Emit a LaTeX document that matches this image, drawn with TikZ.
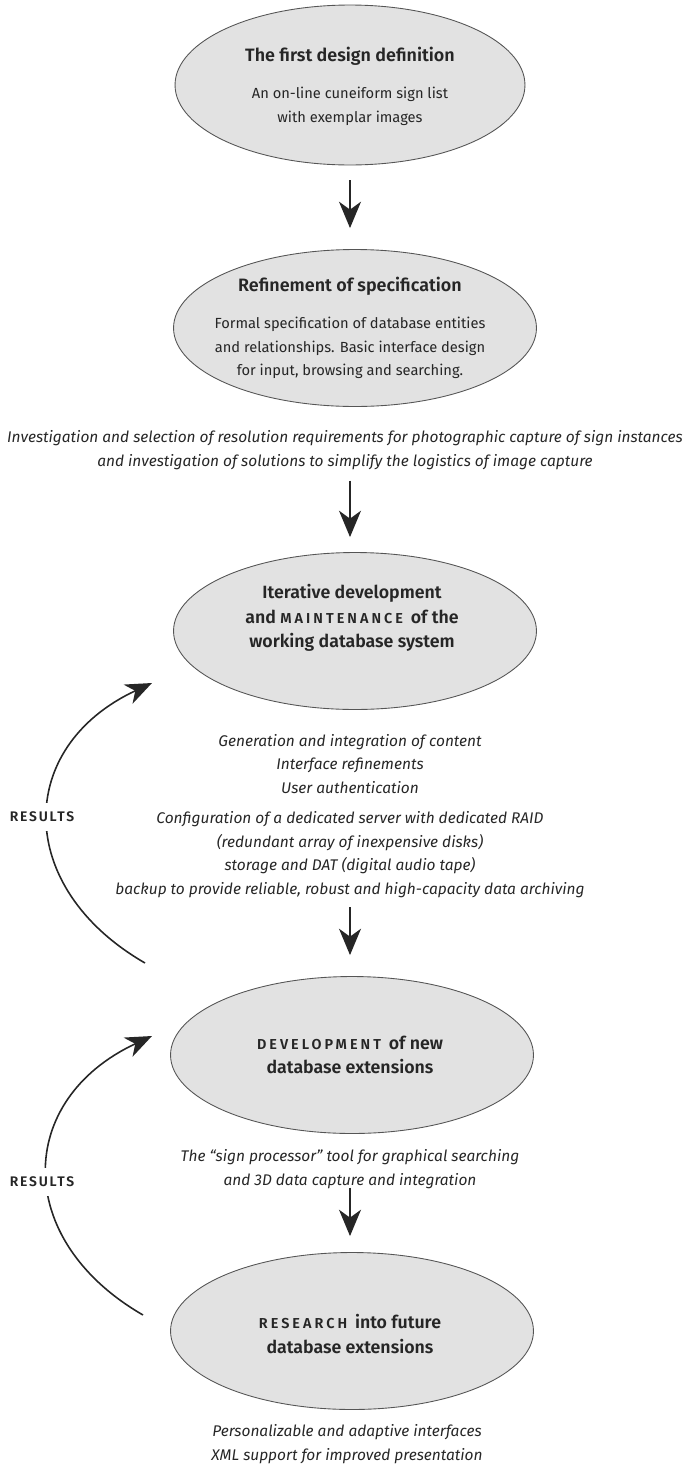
\documentclass[tikz,border=0pt]{standalone}
\usepackage{fontspec}
\setmainfont{Fira Sans}[BoldFont={Fira Sans SemiBold}]
\usetikzlibrary{shapes.geometric,arrows.meta,positioning}
\definecolor{stagefill}{RGB}{226,226,226}
\definecolor{stageline}{RGB}{85,85,85}
\definecolor{inkgray}{RGB}{38,38,38}
\newcommand{\spcaps}[1]{{\fontsize{8.2}{9}\selectfont\addfontfeatures{LetterSpace=21}#1}\hspace{2pt}}
\newcommand{\rescaps}[1]{{\fontsize{7.9}{9}\selectfont\addfontfeatures{LetterSpace=13}#1}}
\tikzset{
    % stage ellipses and their texts
    stage/.style={
        ellipse, draw=stageline, line width=0.5pt, fill=stagefill,
        minimum width=7.26cm, minimum height=3.14cm, inner sep=0pt
    },
    stagetext/.style={
        text=inkgray, align=center, font=\fontsize{8.35}{13.4}\selectfont
    },
    stagebig/.style={
        text=inkgray, align=center, font=\bfseries\fontsize{10.1}{13.9}\selectfont
    },
    note/.style={
        text=inkgray, align=center, font=\itshape\fontsize{8.8}{13.4}\selectfont
    },
    arrow/.style={
        ->, >={Stealth[length=15pt,width=12.5pt,inset=4.5pt]},
        line width=1.1pt, color=inkgray
    },
    feedback/.style={
        ->, >={Stealth[length=15pt,width=12pt,inset=4.5pt]},
        line width=0.9pt, color=inkgray
    },
    results/.style={
        fill=white, inner xsep=1pt, inner ysep=5pt, text=inkgray,
        font=\bfseries
    }
}
\begin{document}
\begin{tikzpicture}[x=0.02cm, y=-0.02cm]
\useasboundingbox (0,0) rectangle (690,1464);

% Stages
\node[stage, minimum width=7cm, minimum height=3.2cm] (first) at (350,85) {};
\node[stage] (refine) at (355,328) {};
\node[stage] (iter) at (355,631) {};
\node[stage] (dev) at (352,1055) {};
\node[stage] (future) at (352,1331) {};

% Texts inside the stages
\node[stagetext] (firsttxt) at (350,86)
    {{\bfseries\fontsize{10.2}{13.4}\selectfont The first design definition}\\[8pt]
     An on-line cuneiform sign list\\with exemplar images};
\node[stagetext] (refinetxt) at (350,328)
    {{\bfseries\fontsize{10.2}{13.4}\selectfont Refinement of specification}\\[8pt]
     Formal specification of database entities\\
     and relationships. Basic interface design\\
     for input, browsing and searching.};
\node[stagebig] (itertxt) at (352,618)
    {Iterative development\\and \spcaps{MAINTENANCE} of the\\working database system};
\node[stagebig] (devtxt) at (350,1055)
    {\spcaps{DEVELOPMENT} of new\\database extensions};
\node[stagebig] (futuretxt) at (350,1334)
    {\spcaps{RESEARCH} into future\\database extensions};

% Notes between the stages
\node[note] (invest) at (345,450)
    {Investigation and selection of resolution requirements for photographic capture of sign instances\\
     and investigation of solutions to simplify the logistics of image capture};
\node[note] (maintnotes) at (350,816)
    {Generation and integration of content\\Interface refinements\\User authentication\\[4pt]
     Configuration of a dedicated server with dedicated RAID\\
     (redundant array of inexpensive disks)\\
     storage and DAT (digital audio tape)\\
     backup to provide reliable, robust and high-capacity data archiving};
\node[note] (signnotes) at (350,1169)
    {The ``sign processor'' tool for graphical searching\\and 3D data capture and integration};
\node[note] (futurenotes) at (347,1444)
    {Personalizable and adaptive interfaces\\XML support for improved presentation};

% Main flow
\draw[arrow, shorten <=0.3cm, shorten >=0.42cm] (first.south) -- (first.south |- refine.north);
\draw[arrow, shorten <=0.1cm, shorten >=0.3cm] (invest.south -| first) -- (first |- iter.north);
\draw[arrow, shorten <=0.06cm, shorten >=0.42cm] (maintnotes.south) -- (maintnotes.south |- dev.north);
\draw[arrow, shorten <=-0.14cm, shorten >=0.32cm] (signnotes.south) -- (signnotes.south |- future.north);

% Feedback loops
\coordinate (fb1 start) at (145,963);
\coordinate (fb1 end) at (152,683);
\coordinate (fb2 start) at (143,1315);
\coordinate (fb2 end) at (152,1036);
\draw[feedback] (fb1 start) to[out=150, in=205, looseness=1.38] (fb1 end);
\draw[feedback] (fb2 start) to[out=150, in=205, looseness=1.38] (fb2 end);
\node[results] (res1) at (42,817) {\rescaps{RESULTS}};
\node[results] (res2) at (42,1182) {\rescaps{RESULTS}};

\end{tikzpicture}
\end{document}
